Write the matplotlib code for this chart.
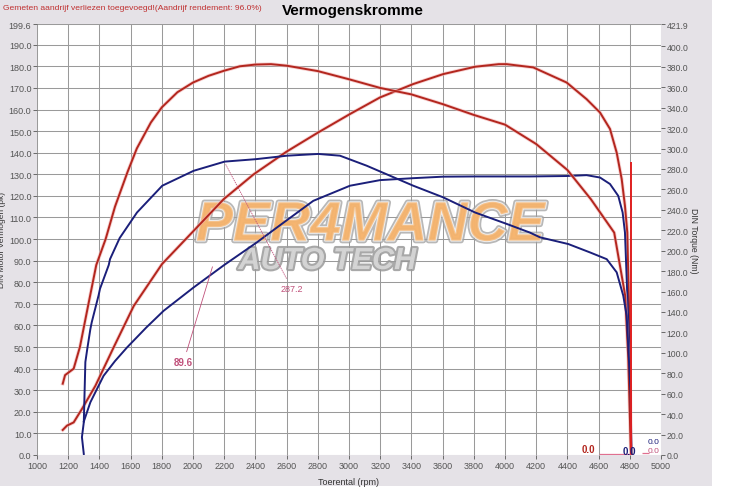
#!/usr/bin/env python3
"""
Vermogenskromme - rollenbank meting (pk / Nm tegen toerental)
"""

import matplotlib.pyplot as plt
import matplotlib.patheffects as pe
from matplotlib.patches import Rectangle

plt.rcParams['font.family'] = ['Liberation Sans', 'DejaVu Sans']

# --- data ---
# Rode meting: vermogen (pk)
red_power_rpm = [1165, 1192, 1235, 1288, 1374, 1491, 1620, 1801, 2000, 2197, 2389, 2600,
                 2803, 3006, 3199, 3412, 3604, 3808, 3960, 4011, 4181, 4395, 4523, 4609,
                 4673, 4716, 4748, 4769, 4784, 4798, 4806, 4810]
red_power_pk = [11.6, 13.6, 15.1, 21.3, 32.0, 49.8, 69.0, 88.4, 103.5, 118.5, 130.0, 140.5,
                149.4, 157.9, 165.6, 171.8, 176.4, 179.8, 181.0, 181.0, 179.5, 172.5, 164.8, 158.6,
                151.0, 140.0, 127.8, 115.4, 103.0, 60.0, 12.0, 0.0]

# Rode meting: koppel (Nm)
red_torque_rpm = [1165, 1180, 1235, 1275, 1330, 1380, 1440, 1500, 1580, 1640, 1730, 1800,
                  1900, 2000, 2100, 2200, 2300, 2400, 2500, 2600, 2800, 3000, 3200, 3400,
                  3600, 3800, 4000, 4200, 4400, 4550, 4700, 4770, 4790, 4806, 4810]
red_torque_nm = [69.8, 78.2, 84.5, 105.7, 148.0, 186.0, 211.4, 243.1, 276.9, 300.1, 325.5, 340.3,
                 355.1, 364.6, 371.2, 376.2, 380.5, 382.2, 382.6, 381.1, 375.8, 367.8, 359.3, 353.0,
                 343.5, 332.9, 323.4, 304.4, 279.0, 250.5, 217.7, 156.4, 95.1, 6.3, 0.0]

# Blauwe meting: vermogen (pk)
blue_power_rpm = [1300, 1342, 1427, 1500, 1577, 1700, 1812, 2004, 2200, 2410, 2550, 2771,
                  3006, 3199, 3412, 3604, 3808, 4160, 4395, 4523, 4609, 4673, 4726, 4754,
                  4769, 4800, 4810]
blue_power_pk = [15.5, 24.4, 36.7, 43.5, 49.8, 59.0, 66.8, 77.6, 88.0, 98.5, 106.0, 117.7,
                 124.7, 127.3, 128.2, 128.9, 129.0, 129.0, 129.2, 129.6, 128.5, 125.5, 120.0, 112.3,
                 103.0, 43.0, 0.0]

# Blauwe meting: koppel (Nm)
blue_torque_rpm = [1300, 1288, 1300, 1310, 1322, 1342, 1351, 1395, 1404, 1460, 1468, 1530,
                   1641, 1803, 2004, 2203, 2404, 2603, 2803, 2942, 3113, 3322, 3412, 3604,
                   3808, 4011, 4160, 4224, 4406, 4545, 4652, 4716, 4758, 4780, 4806, 4810]
blue_torque_nm = [1.0, 17.5, 32.0, 91.0, 103.6, 123.2, 130.0, 156.4, 162.8, 186.0, 191.7, 212.4,
                  237.4, 263.6, 278.2, 287.2, 289.6, 293.0, 294.7, 293.0, 283.2, 269.5, 263.6, 252.2,
                  237.4, 226.2, 217.7, 213.1, 206.5, 198.3, 191.7, 178.8, 156.0, 136.3, 58.1, 0.0]

# cursor / markeringen
cursor_rpm = 4810
cursor_top_pk = 135.5
torque_mark = (2200, 287.2)     # blauwe koppel-waarde bij 2200 rpm
torque_label_at = (2560, 77.3)  # in pk-schaal
power_mark = (2130, 88.4)
power_label_at = (2000, 43.0)

x_ticks = list(range(1000, 5001, 200))
pk_ticks = [float(v) for v in range(0, 200, 10)] + [199.6]
nm_ticks = [float(v) for v in range(0, 401, 20)] + [421.9]

RED = '#b3261e'
BLUE = '#1b1f7a'
PINK = '#c0507a'
TICK_COLOR = '#555555'
PK2NM = 421.9 / 199.6

# --- figuur ---
fig = plt.figure(figsize=(7.35, 4.89), dpi=100, facecolor='white')
fig.patches.append(Rectangle((0, 0.004), 712 / 735, 0.996, transform=fig.transFigure,
                             facecolor='#e5e2e7', edgecolor='none', zorder=-10))

ax = fig.add_axes([37 / 735, 33 / 489, 624 / 735, 431 / 489])
ax.set_facecolor('white')
ax2 = ax.twinx()

ax.set_xlim(1000, 5000)
ax.set_ylim(0, 199.6)
ax2.set_ylim(0, 421.9)

ax.set_xticks(x_ticks)
ax.set_yticks(pk_ticks)
ax.set_yticklabels([f'{v:.1f}' for v in pk_ticks])
ax2.set_yticks(nm_ticks)
ax2.set_yticklabels([f'{v:.1f}' for v in nm_ticks])

for a in (ax, ax2):
    for s in a.spines.values():
        s.set_visible(False)
    a.tick_params(labelsize=6.5, colors=TICK_COLOR, length=3, width=0.6, pad=1)
ax2.tick_params(labelsize=6.2)

ax.grid(True, color='#9a9a9a', linewidth=0.75)
ax.set_axisbelow(True)

glow = [pe.Stroke(linewidth=2.6, foreground='#f2b0b0', alpha=0.6), pe.Normal()]

ax.plot(red_power_rpm, red_power_pk, color=RED, lw=1.4, path_effects=glow, zorder=5)
ax2.plot(red_torque_rpm, red_torque_nm, color=RED, lw=1.4, path_effects=glow, zorder=5)
ax.plot(blue_power_rpm, blue_power_pk, color=BLUE, lw=1.4, zorder=6)
ax2.plot(blue_torque_rpm, blue_torque_nm, color=BLUE, lw=1.4, zorder=6)
ax2.vlines(cursor_rpm, 0, cursor_top_pk * PK2NM, color='#e02020', lw=1.4, zorder=7)

# watermerk
ax.text(0.534, 0.53, 'PER4MANCE', transform=ax.transAxes, ha='center', va='center',
        fontsize=40, fontweight='bold', style='italic', color='#f6b46e', alpha=0.75,
        path_effects=[pe.Stroke(linewidth=4, foreground='#a0a0a0'),
                      pe.Stroke(linewidth=1.5, foreground='white'), pe.Normal()], zorder=4)
ax.text(0.465, 0.45, 'AUTO TECH', transform=ax.transAxes, ha='center', va='center',
        fontsize=22, fontweight='bold', style='italic', color='#dcdcdc', alpha=0.85,
        path_effects=[pe.Stroke(linewidth=3, foreground='#999999'), pe.Normal()], zorder=4)

# markeringen
mx, my = torque_mark
ax2.annotate(f'{my:.1f}', xy=(mx, my), xytext=(torque_label_at[0], torque_label_at[1] * PK2NM),
             fontsize=6.5, color=PINK, ha='left', va='center',
             arrowprops=dict(arrowstyle='-', color=PINK, lw=0.6, linestyle=':'), zorder=8)
px_, py_ = power_mark
ax2.annotate('89.6', xy=(px_, py_ * PK2NM), xytext=(power_label_at[0], power_label_at[1] * PK2NM),
             fontsize=7, fontweight='bold', color=PINK, ha='right', va='center',
             arrowprops=dict(arrowstyle='-', color=PINK, lw=0.6), zorder=8)

ax2.hlines(1.0, 4600, 4800, color='#e07090', lw=0.9, zorder=7)
ax2.hlines(2.0, 4880, 4920, color='#e07090', lw=0.9, zorder=7)
ax2.text(4575, 5.5, '0.0', fontsize=7, fontweight='bold', color=RED, ha='right', va='center', zorder=8)
ax2.text(4800, 3.5, '0.0', fontsize=7, fontweight='bold', color=BLUE, ha='center', va='center', zorder=8)
ax2.text(4990, 13.0, '0.0', fontsize=6, color=BLUE, ha='right', va='center', zorder=8)
ax2.text(4990, 4.0, '0.0', fontsize=6, color=PINK, ha='right', va='center', zorder=8)

ax.set_xlabel('Toerental (rpm)', fontsize=6.5, color='#333333')
ax.xaxis.set_label_coords(0.5, -0.05)
ax.set_ylabel('DIN Motor Vermogen (pk)', fontsize=6, color='#333333')
ax.yaxis.set_label_coords(-0.05, 0.5)
ax2.set_ylabel('DIN Torque (Nm)', fontsize=6.2, color='#333333', rotation=-90)
ax2.yaxis.set_label_coords(1.06, 0.5)

fig.text(353 / 735, 1 - 11 / 489, 'Vermogenskromme', ha='center', va='center',
         fontsize=11, fontweight='bold', color='black')
fig.text(3 / 735, 1 - 8 / 489, 'Gemeten aandrijf verliezen toegevoegd!(Aandrijf rendement: 96.0%)',
         ha='left', va='center', fontsize=6.1, color='#c03030')

fig.savefig('out.png', dpi=100, facecolor=fig.get_facecolor())
plt.close(fig)
